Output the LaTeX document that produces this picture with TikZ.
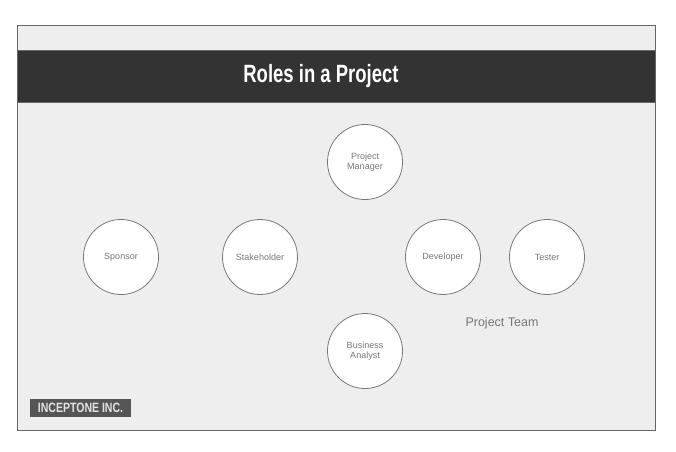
\documentclass[tikz,border=0pt]{standalone}
\usepackage{fontspec}
\setmainfont{Liberation Sans}
\usepackage{graphicx}
\definecolor{bgcol}{HTML}{EEEEEE}
\definecolor{framecol}{HTML}{666666}
\definecolor{barcol}{HTML}{333333}
\definecolor{circcol}{HTML}{777777}
\definecolor{txtcol}{HTML}{777777}
\definecolor{logocol}{HTML}{555555}
\definecolor{logotxt}{HTML}{E2E2E2}
\begin{document}
\begin{tikzpicture}[x=1pt,y=-1pt,
  role/.style={circle,draw=circcol,fill=white,line width=0.8pt,minimum size=75pt,inner sep=0pt,
    align=center,font=\fontsize{9}{10.5}\selectfont,text=txtcol},
  lbl/.style={font=\fontsize{12.5}{14}\selectfont,text=txtcol}]
\useasboundingbox (0,0) rectangle (676,451);
\fill[white] (0,0) rectangle (676,451);
\draw[framecol,fill=bgcol,line width=0.8pt] (17,25) rectangle (655,430);
\draw[framecol,fill=barcol,line width=0.8pt] (17,50) rectangle (655,102);
\node[text=white,font=\bfseries\fontsize{25}{28}\selectfont] (title) at (321,76) {\scalebox{0.74}[1]{Roles in a Project}};
\node[role] (pm) at (365,162) {Project\\Manager};
\node[role] (sp) at (121,257) {Sponsor};
\node[role] (sh) at (260,257) {Stakeholder};
\node[role] (dev) at (443,257) {Developer};
\node[role] (te) at (547,257) {Tester};
\node[role] (ba) at (365,351) {Business\\Analyst};
\node[lbl] (team) at (502,323) {Project Team};
\node[fill=logocol,text=logotxt,font=\bfseries\fontsize{13.5}{14}\selectfont,
  minimum width=101pt,minimum height=18pt,inner sep=0pt] (logo) at (80.5,408) {\scalebox{0.78}[1]{INCEPTONE INC.}};
\end{tikzpicture}
\end{document}
